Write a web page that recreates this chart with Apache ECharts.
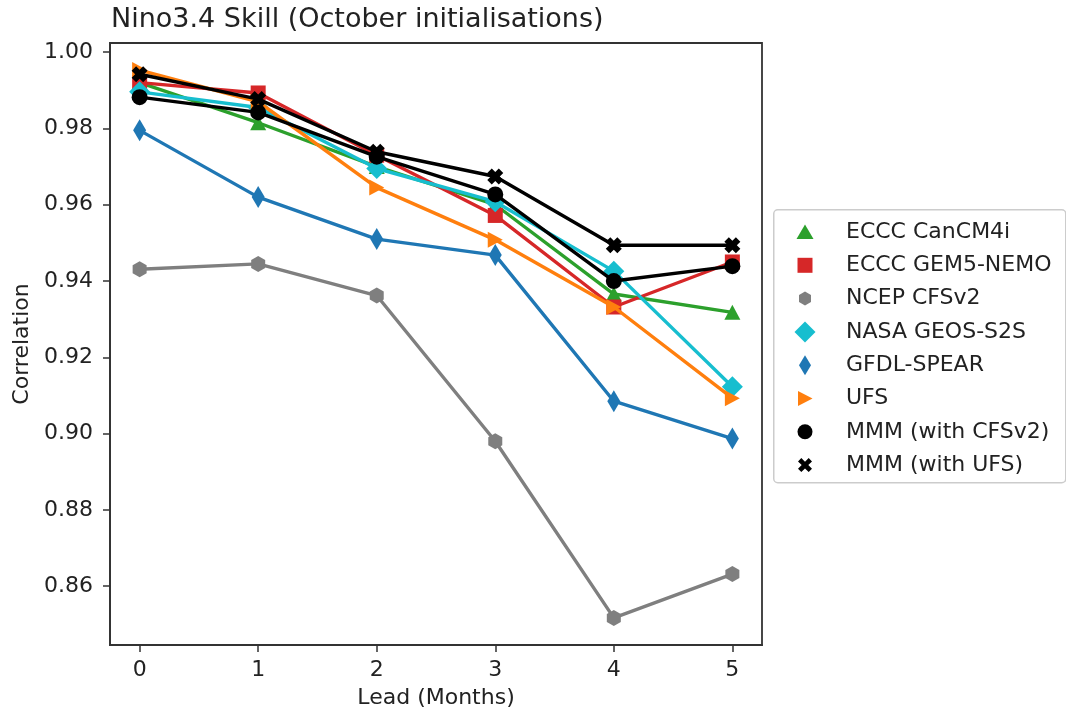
<!DOCTYPE html>
<html>
<head>
<meta charset="utf-8">
<script src="https://cdn.jsdelivr.net/npm/echarts@6/dist/echarts.min.js"></script>
<style>
html,body{margin:0;padding:0;background:#fff;}
#c{width:1066px;height:714px;}
</style>
</head>
<body>
<div id="c"></div>
<script>
// ---- data ----
const leads = [0, 1, 2, 3, 4, 5];
const yTicks = [0.86, 0.88, 0.90, 0.92, 0.94, 0.96, 0.98, 1.00];
const xTicks = [0, 1, 2, 3, 4, 5];
const seriesNames = ['ECCC CanCM4i', 'ECCC GEM5-NEMO', 'NCEP CFSv2', 'NASA GEOS-S2S', 'GFDL-SPEAR', 'UFS', 'MMM (with CFSv2)', 'MMM (with UFS)'];
const canCM4i = [0.992, 0.9815, 0.970, 0.960, 0.9366, 0.9318];
const gem5Nemo = [0.992, 0.9893, 0.973, 0.9572, 0.9332, 0.945];
const cfsv2 = [0.9431, 0.9445, 0.9362, 0.898, 0.8517, 0.8632];
const geosS2S = [0.9896, 0.9855, 0.9695, 0.9608, 0.9426, 0.9123];
const spear = [0.9795, 0.962, 0.951, 0.9468, 0.9085, 0.8987];
const ufs = [0.9953, 0.987, 0.9645, 0.9508, 0.9332, 0.9093];
const mmmCfs = [0.9882, 0.9842, 0.9726, 0.9627, 0.940, 0.9439];
const mmmUfs = [0.9942, 0.9877, 0.9739, 0.9674, 0.9494, 0.9494];
const allValues = [canCM4i, gem5Nemo, cfsv2, geosS2S, spear, ufs, mmmCfs, mmmUfs];

// ---- styles ----
const colors = ['#2ca02c', '#d62728', '#7f7f7f', '#17becf', '#1f77b4', '#ff7f0e', '#000000', '#000000'];
const X_PATH = 'path://M0.28,0 L0.5,0.22 L0.72,0 L1,0.28 L0.78,0.5 L1,0.72 L0.72,1 L0.5,0.78 L0.28,1 L0,0.72 L0.22,0.5 L0,0.28 Z';
const HEX_PATH = 'path://M0.5,0 L0.933,0.25 L0.933,0.75 L0.5,1 L0.067,0.75 L0.067,0.25 Z';
const TRI_R_PATH = 'path://M0,0 L1,0.5 L0,1 Z';
const symbols = ['triangle', 'rect', HEX_PATH, 'diamond', 'diamond', TRI_R_PATH, 'circle', X_PATH];
const symbolSizes = [[16, 15], 15, [14, 16], 21, [13, 22], [15, 16], 16, 16];
const F = 'M0,0 M22,22 ';
const legendIcons = [
  'path://' + F + 'M11,3.5 L19.5,18 L2.5,18 Z',
  'path://' + F + 'M3.5,3.5 L18.5,3.5 L18.5,18.5 L3.5,18.5 Z',
  'path://' + F + 'M11,4 L17,7.5 L17,14.5 L11,18 L5,14.5 L5,7.5 Z',
  'path://' + F + 'M11,0.5 L21.5,11 L11,21.5 L0.5,11 Z',
  'path://' + F + 'M11,1 L17,11 L11,21 L5,11 Z',
  'path://' + F + 'M4,3.5 L18.5,11 L4,18.5 Z',
  'path://' + F + 'M3.5,11 A7.5,7.5 0 1,0 18.5,11 A7.5,7.5 0 1,0 3.5,11 Z',
  'path://' + F + 'M7.3,4 L11,7.7 L14.7,4 L18,7.3 L14.3,11 L18,14.7 L14.7,18 L11,14.3 L7.3,18 L4,14.7 L7.7,11 L4,7.3 Z'
];

const FONT = 'DejaVu Sans';
const series = seriesNames.map((name, i) => ({
  name: name,
  type: 'line',
  data: leads.map((l, j) => [l, allValues[i][j]]),
  symbol: symbols[i],
  symbolSize: symbolSizes[i],
  showSymbol: true,
  lineStyle: { width: 3.4, color: colors[i] },
  itemStyle: { color: colors[i], borderWidth: 0 },
  z: 2 + i,
  emphasis: { disabled: true }
}));

const chart = echarts.init(document.getElementById('c'), null, { renderer: 'canvas' });
chart.setOption({
  animation: false,
  backgroundColor: '#ffffff',
  textStyle: { fontFamily: FONT },
  title: {
    text: 'Nino3.4 Skill (October initialisations)',
    left: 111, top: 6, padding: 0,
    textStyle: { fontFamily: FONT, fontSize: 27, fontWeight: 'normal', color: '#222' }
  },
  grid: {
    left: 110, right: 304, top: 43, bottom: 67,
    show: true, borderColor: '#333', borderWidth: 1.8, backgroundColor: '#fff'
  },
  xAxis: {
    type: 'value', min: -0.25, max: 5.25,
    name: 'Lead (Months)', nameLocation: 'middle', nameGap: 42,
    nameTextStyle: { fontFamily: FONT, fontSize: 22, color: '#222' },
    axisLine: { show: true, onZero: false, lineStyle: { color: '#333', width: 1.8 } },
    axisTick: { show: true, customValues: xTicks, length: 7, lineStyle: { color: '#333', width: 1.5 } },
    axisLabel: { customValues: xTicks, margin: 14, fontFamily: FONT, fontSize: 22, color: '#222', formatter: v => String(v) },
    splitLine: { show: false }
  },
  yAxis: {
    type: 'value', min: 0.8446, max: 1.0024,
    name: 'Correlation', nameLocation: 'middle', nameGap: 76, nameRotate: 90,
    nameTextStyle: { fontFamily: FONT, fontSize: 22, color: '#222' },
    axisLine: { show: true, onZero: false, lineStyle: { color: '#333', width: 1.8 } },
    axisTick: { show: true, customValues: yTicks, length: 7, lineStyle: { color: '#333', width: 1.5 } },
    axisLabel: { customValues: yTicks, margin: 17, fontFamily: FONT, fontSize: 22, color: '#222', formatter: v => v.toFixed(2) },
    splitLine: { show: false }
  },
  legend: {
    orient: 'vertical',
    left: 794, top: 221,
    itemWidth: 22, itemHeight: 22, itemGap: 11.3,
    padding: 0,
    data: seriesNames.map((n, i) => ({ name: n, icon: legendIcons[i], itemStyle: { color: colors[i] } })),
    textStyle: { fontFamily: FONT, fontSize: 22, color: '#222', lineHeight: 22, padding: [0, 0, 0, 25] },
    selectedMode: false
  },
  graphic: [{
    type: 'rect', left: 773, top: 209, z: -1,
    shape: { width: 292, height: 273, r: 4 },
    style: { fill: '#fff', stroke: '#cccccc', lineWidth: 1.5 }
  }],
  series: series
});
</script>
</body>
</html>
